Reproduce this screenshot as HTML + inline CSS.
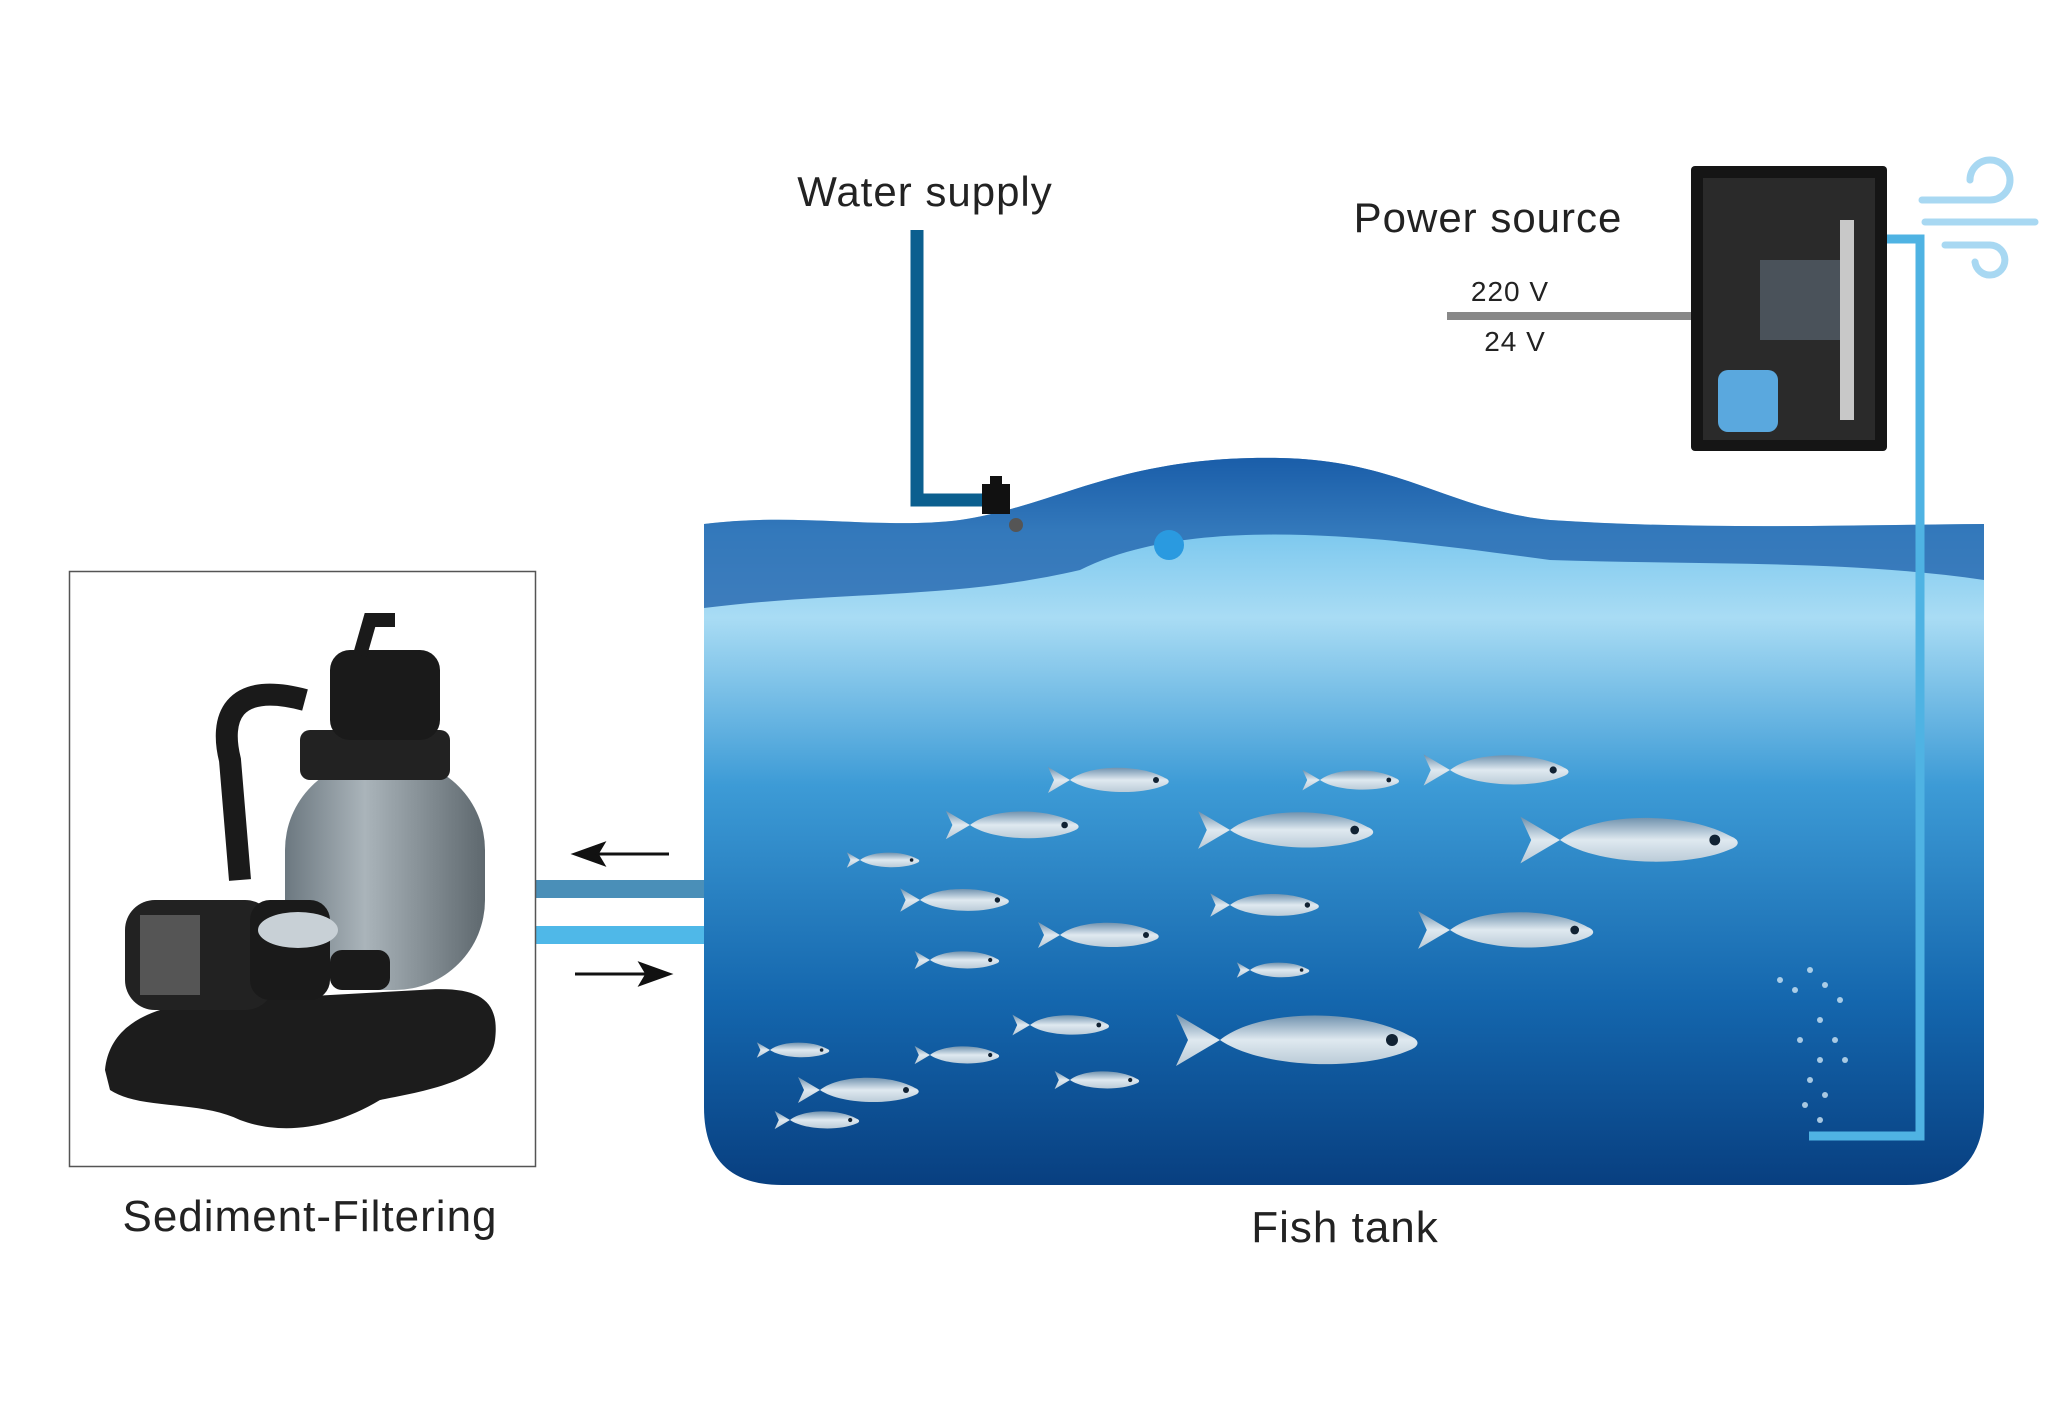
<!DOCTYPE html>
<html><head><meta charset="utf-8"><style>
html,body{margin:0;padding:0;background:#fff;}
body{width:2048px;height:1401px;position:relative;overflow:hidden;font-family:"Liberation Sans",sans-serif;color:#222;}
.t{position:absolute;white-space:nowrap;transform:translateX(-50%);letter-spacing:1px;}
</style></head><body>
<svg width="2048" height="1401" style="position:absolute;left:0;top:0">
<defs>
<linearGradient id="w" x1="0" y1="0" x2="0" y2="1">
<stop offset="0" stop-color="#1a5fa8"/>
<stop offset="0.1" stop-color="#7cc8ee"/>
<stop offset="0.22" stop-color="#a9dcf4"/>
<stop offset="0.45" stop-color="#3d9bd6"/>
<stop offset="0.75" stop-color="#1466ad"/>
<stop offset="1" stop-color="#083f80"/>
</linearGradient>
<linearGradient id="f" x1="0" y1="0" x2="0" y2="1">
<stop offset="0" stop-color="#6b8eab"/><stop offset="0.5" stop-color="#dfe9f0"/><stop offset="1" stop-color="#b8c9d6"/>
</linearGradient>
<linearGradient id="g" x1="0" y1="0" x2="1" y2="0">
<stop offset="0" stop-color="#6c7880"/><stop offset="0.4" stop-color="#aab4ba"/><stop offset="1" stop-color="#5e686e"/>
</linearGradient>
<g id="fish"><path d="M0,0 C20,-16 70,-16 95,-2 C100,0 100,3 95,5 C70,16 20,14 0,0 L-22,-13 L-16,0 L-22,13 Z" fill="url(#f)"/><circle cx="86" cy="0" r="3" fill="#123"/></g>
</defs>
<!-- tank -->
<path d="M704,524 C800,512 880,530 960,520 C1060,505 1120,455 1280,458 C1400,460 1450,510 1550,520 C1700,530 1850,525 1984,524 L1984,1107 Q1984,1185 1906,1185 L782,1185 Q704,1185 704,1107 Z" fill="url(#w)"/>
<path d="M704,524 C800,512 880,530 960,520 C1060,505 1120,455 1280,458 C1400,460 1450,510 1550,520 C1700,530 1850,525 1984,524 L1984,580 C1850,560 1700,565 1550,560 C1400,540 1200,510 1080,570 C950,600 850,590 704,608 Z" fill="#1b5ea9" opacity="0.75"/>
<circle cx="1169" cy="545" r="15" fill="#2a9ae0"/>
<!-- fish -->
<g>
<use href="#fish" transform="translate(1560,840) scale(1.8)"/>
<use href="#fish" transform="translate(1230,830) scale(1.45)"/>
<use href="#fish" transform="translate(1450,930) scale(1.45)"/>
<use href="#fish" transform="translate(1220,1040) scale(2)"/>
<use href="#fish" transform="translate(1450,770) scale(1.2)"/>
<use href="#fish" transform="translate(970,825) scale(1.1)"/>
<use href="#fish" transform="translate(1070,780) scale(1)"/>
<use href="#fish" transform="translate(920,900) scale(0.9)"/>
<use href="#fish" transform="translate(1060,935) scale(1)"/>
<use href="#fish" transform="translate(1230,905) scale(0.9)"/>
<use href="#fish" transform="translate(1320,780) scale(0.8)"/>
<use href="#fish" transform="translate(820,1090) scale(1)"/>
<use href="#fish" transform="translate(930,1055) scale(0.7)"/>
<use href="#fish" transform="translate(1030,1025) scale(0.8)"/>
<use href="#fish" transform="translate(1070,1080) scale(0.7)"/>
<use href="#fish" transform="translate(790,1120) scale(0.7)"/>
<use href="#fish" transform="translate(860,860) scale(0.6)"/>
<use href="#fish" transform="translate(930,960) scale(0.7)"/>
<use href="#fish" transform="translate(1250,970) scale(0.6)"/>
<use href="#fish" transform="translate(770,1050) scale(0.6)"/>
</g>
<!-- bubbles -->
<g fill="#cfe6f5" opacity="0.8">
<circle cx="1780" cy="980" r="3"/><circle cx="1795" cy="990" r="3"/><circle cx="1810" cy="970" r="3"/><circle cx="1825" cy="985" r="3"/><circle cx="1840" cy="1000" r="3"/><circle cx="1820" cy="1020" r="3"/><circle cx="1835" cy="1040" r="3"/><circle cx="1820" cy="1060" r="3"/><circle cx="1810" cy="1080" r="3"/><circle cx="1825" cy="1095" r="3"/><circle cx="1805" cy="1105" r="3"/><circle cx="1820" cy="1120" r="3"/><circle cx="1800" cy="1040" r="3"/><circle cx="1845" cy="1060" r="3"/>
</g>
<!-- water supply pipe -->
<path d="M917,230 L917,500 L990,500" stroke="#0b5f8f" stroke-width="13" fill="none"/>
<rect x="982" y="484" width="28" height="30" fill="#111"/><rect x="990" y="476" width="12" height="10" fill="#111"/>
<circle cx="1016" cy="525" r="7" fill="#555"/>
<!-- power line -->
<rect x="1447" y="312" width="244" height="8" fill="#888"/>
<!-- cabinet -->
<rect x="1691" y="166" width="196" height="285" rx="4" fill="#151515"/>
<rect x="1703" y="178" width="172" height="262" fill="#2a2a2a"/>
<rect x="1760" y="260" width="80" height="80" fill="#4a525a"/>
<rect x="1840" y="220" width="14" height="200" fill="#c8c8c8"/>
<rect x="1718" y="370" width="60" height="62" rx="10" fill="#5aa8de"/>
<!-- light blue pipe -->
<path d="M1887,239 L1920,239 L1920,1136 L1809,1136" stroke="#4fb3e3" stroke-width="9" fill="none"/>
<!-- wind icon -->
<g stroke="#a8d8f2" stroke-width="7" fill="none" stroke-linecap="round">
<path d="M1922,200 L1990,200 A20,20 0 1 0 1970,180"/>
<path d="M1925,222 L2035,222"/>
<path d="M1945,245 L1990,245 A15,15 0 1 1 1975,262"/>
</g>
<!-- connecting pipes -->
<rect x="535" y="880" width="169" height="18" fill="#4a8fb8"/>
<rect x="535" y="926" width="169" height="18" fill="#4fb8e8"/>
<!-- arrows -->
<g stroke="#111" stroke-width="3" fill="#111">
<line x1="590" y1="854" x2="669" y2="854"/><path d="M575,854 L603,844 L597,854 L603,864 Z"/>
<line x1="575" y1="974" x2="654" y2="974"/><path d="M669,974 L641,964 L647,974 L641,984 Z"/>
</g>
<!-- filter box -->
<rect x="69.5" y="571.5" width="466" height="595" fill="#fff" stroke="#555" stroke-width="1.5"/>
<path d="M105,1070 C110,1020 160,1000 240,1000 L420,990 C480,985 500,1000 495,1040 C490,1080 430,1090 380,1100 C330,1130 280,1135 240,1120 C200,1100 140,1110 110,1090 Z" fill="#1c1c1c"/>
<rect x="285" y="760" width="200" height="230" rx="90" fill="url(#g)"/>
<rect x="300" y="730" width="150" height="50" rx="10" fill="#222"/>
<rect x="330" y="650" width="110" height="90" rx="20" fill="#1a1a1a"/>
<path d="M360,655 L370,620 L395,620" stroke="#1a1a1a" stroke-width="14" fill="none"/>
<path d="M305,700 C230,680 220,720 230,760 L240,880" stroke="#1a1a1a" stroke-width="22" fill="none"/>
<rect x="125" y="900" width="150" height="110" rx="30" fill="#222"/>
<rect x="140" y="915" width="60" height="80" fill="#555"/>
<rect x="250" y="900" width="80" height="100" rx="20" fill="#1a1a1a"/>
<ellipse cx="298" cy="930" rx="40" ry="18" fill="#c8d0d6"/>
<rect x="330" y="950" width="60" height="40" rx="12" fill="#1a1a1a"/>
</svg>
<div class="t" style="left:925px;top:168px;font-size:42px;">Water supply</div>
<div class="t" style="left:1488px;top:194px;font-size:42px;">Power source</div>
<div class="t" style="left:1510px;top:276px;font-size:28px;">220 V</div>
<div class="t" style="left:1515px;top:326px;font-size:28px;">24 V</div>
<div class="t" style="left:310px;top:1192px;font-size:44px;">Sediment-Filtering</div>
<div class="t" style="left:1345px;top:1203px;font-size:44px;">Fish tank</div>
</body></html>
